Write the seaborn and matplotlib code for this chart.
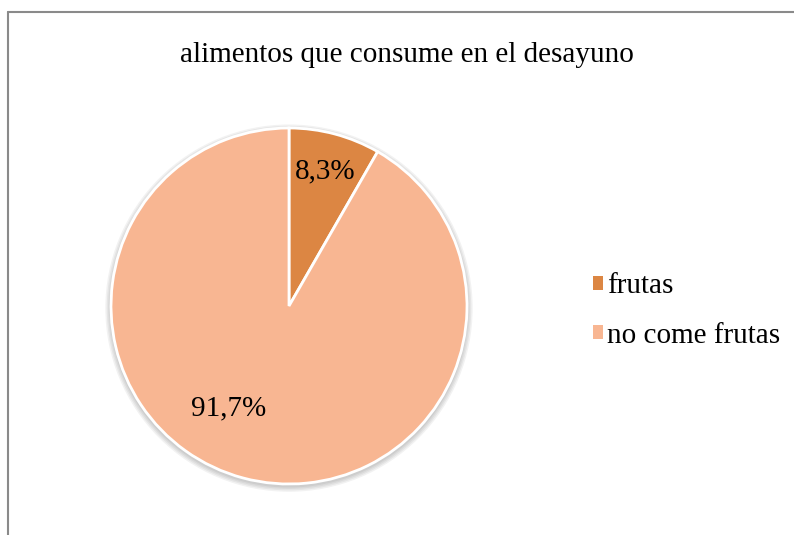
import matplotlib
matplotlib.use("Agg")
import matplotlib.pyplot as plt
import seaborn as sns
from matplotlib.lines import Line2D
from matplotlib.patches import Patch, Circle

categories = ["frutas", "no come frutas"]
percentages = [8.3, 91.7]
colors = ["#DC8643", "#F8B692"]
title = "alimentos que consume en el desayuno"

sns.set_theme(style="white")
plt.rcParams["font.family"] = ["Liberation Serif", "DejaVu Serif"]
plt.rcParams["text.color"] = "black"

W, H = 794, 535
fig = plt.figure(figsize=(W / 100, H / 100), dpi=100)

# pie axes: centre at (289, 306) px, radius 178 px
cx, cy, r = 289, 306, 178
ax = fig.add_axes([(cx - r) / W, (H - cy - r) / H, 2 * r / W, 2 * r / H])

# soft shadow below the pie
for i in range(4):
    ax.add_patch(Circle((0, -0.012), 1.0 + 0.008 * (i + 1), color="#000000",
                        alpha=0.05, lw=0, zorder=0, clip_on=False))

wedges, texts, autotexts = ax.pie(
    percentages, colors=colors, startangle=90, counterclock=False,
    autopct=lambda p: f"{p:.1f}%".replace(".", ","), pctdistance=0.78,
    wedgeprops=dict(edgecolor="white", linewidth=2), radius=1.0,
    textprops=dict(fontsize=21, color="black"))
for w in wedges:
    w.set_zorder(2)
# the large slice's label sits lower-left of centre
autotexts[1].set_position((-0.34, -0.575))

ax.set_xlim(-1, 1)
ax.set_ylim(-1, 1)
ax.set_aspect("equal")
ax.axis("off")

fig.text(407 / W, 1 - 55 / H, title, ha="center", va="center",
         fontsize=21, color="black")

handles = [Patch(facecolor=c, edgecolor="none") for c in colors]
fig.legend(handles, categories, loc="center left",
           bbox_to_anchor=(593 / W, 1 - 311 / H), frameon=False,
           fontsize=21, handlelength=0.34, handleheight=0.38,
           handletextpad=0.15, labelspacing=0.8, borderpad=0,
           borderaxespad=0, labelcolor="black")

# chart-area border along the top and left edges
fig.add_artist(Line2D([8 / W, 1], [1 - 12 / H, 1 - 12 / H], color="#8A8A8A", lw=1.5))
fig.add_artist(Line2D([8 / W, 8 / W], [0, 1 - 12 / H], color="#8A8A8A", lw=1.5))

fig.savefig("out.png", dpi=100)
